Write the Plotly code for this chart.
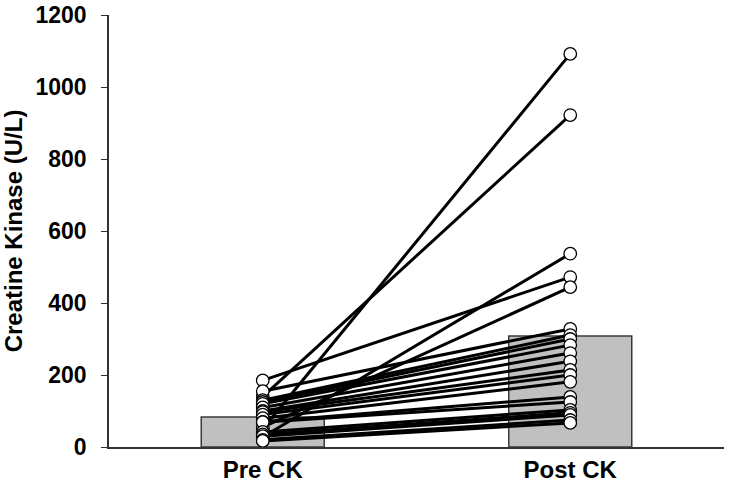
import plotly.graph_objects as go

# Creatine kinase (U/L) per subject, before and after
groups = ['Pre CK', 'Post CK']
pre_ck = [185, 140, 50, 28, 55, 155, 130, 125, 120, 110, 100, 97, 90, 80, 70, 69, 42, 35, 30, 20, 17]
post_ck = [472, 922, 1092, 537, 444, 328, 311, 300, 283, 261, 238, 214, 200, 181, 139, 125, 103, 95, 89, 75, 67]
group_means = [83, 308]
y_ticks = [0, 200, 400, 600, 800, 1000, 1200]

FONT = 'Liberation Sans, Arial, sans-serif'

fig = go.Figure()

fig.add_trace(go.Bar(
    x=[0, 1],
    y=group_means,
    width=0.4,
    marker=dict(color='#c0c0c0', line=dict(color='#3a3a3a', width=1.5)),
    hoverinfo='skip'
))

# one line per subject, gaps between them
xs, ys = [], []
for a, b in zip(pre_ck, post_ck):
    xs += [0, 1, None]
    ys += [a, b, None]

fig.add_trace(go.Scatter(
    x=xs, y=ys, mode='lines',
    line=dict(color='black', width=3),
    hoverinfo='skip'
))

fig.add_trace(go.Scatter(
    x=[0] * len(pre_ck) + [1] * len(post_ck),
    y=pre_ck + post_ck,
    mode='markers',
    marker=dict(size=12.5, color='white', line=dict(color='black', width=1.3)),
    hovertemplate='%{y} U/L<extra></extra>'
))

fig.update_layout(
    width=729,
    height=491,
    template='plotly_white',
    plot_bgcolor='white',
    paper_bgcolor='white',
    showlegend=False,
    margin=dict(l=109, r=5, t=15, b=44),
    font=dict(family=FONT, color='black'),
    xaxis=dict(
        range=[-0.5, 1.5],
        tickvals=[0, 1],
        ticktext=[f'<b>{g}</b>' for g in groups],
        tickfont=dict(size=24),
        showgrid=False,
        zeroline=False,
        showline=True,
        linecolor='#333333',
        linewidth=1.5,
        ticks=''
    ),
    yaxis=dict(
        range=[0, 1200],
        tickvals=y_ticks,
        ticktext=[f'<b>{v}</b>' for v in y_ticks],
        tickfont=dict(size=23),
        ticklabeloverflow='allow',
        title=dict(text='<b>Creatine Kinase (U/L)</b>', font=dict(size=24), standoff=8),
        automargin=False,
        showgrid=False,
        zeroline=False,
        showline=True,
        linecolor='#333333',
        linewidth=1.5,
        ticks='outside',
        ticklen=6,
        tickcolor='#333333',
        ticklabelstandoff=10
    )
)

# drop the default page margin so the figure fills the window exactly
fig.write_html(
    "out.html",
    config={'displayModeBar': False},
    post_script="document.body.style.margin = '0';"
)
